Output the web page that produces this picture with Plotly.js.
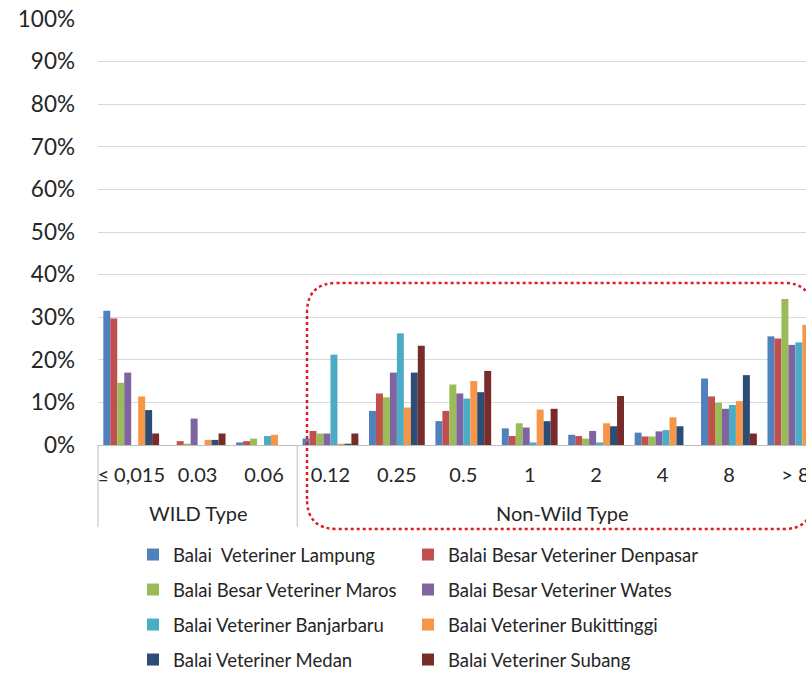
<!DOCTYPE html>
<html>
<head>
<meta charset="utf-8">
<script src="https://cdn.plot.ly/plotly-3.0.1.min.js"></script>
<style>
html,body{margin:0;padding:0;overflow:hidden;background:#fff;}
#chart{width:806px;height:674px;}
</style>
</head>
<body>
<div id="chart"></div>
<script>
// ---- data ----
var categories = ['≤ 0,015','0.03','0.06','0.12','0.25','0.5','1','2','4','8','> 8'];
var groupNames = ['WILD Type','Non-Wild Type'];
var groupFirst = ['≤ 0,015','0.12'];   // first category of each group
var groupLast  = ['0.06','> 8'];       // last category of each group
var seriesNames = ['Balai\u00a0 Veteriner Lampung','Balai Besar Veteriner Denpasar','Balai Besar Veteriner Maros','Balai Besar Veteriner Wates','Balai Veteriner Banjarbaru','Balai Veteriner Bukittinggi','Balai Veteriner Medan','Balai Veteriner Subang'];
var lampung     = [31.5, 0.0, 0.6, 1.5,  8.0,  5.6, 3.9, 2.4, 2.9, 15.6, 25.5];
var denpasar    = [29.7, 0.9, 0.9, 3.3, 12.1,  8.0, 2.1, 2.1, 2.0, 11.4, 25.0];
var maros       = [14.6, 0.3, 1.5, 2.7, 11.2, 14.2, 5.1, 1.5, 2.0,  9.9, 34.3];
var wates       = [17.0, 6.2, 0.0, 2.7, 17.0, 12.1, 4.1, 3.3, 3.2,  8.5, 23.5];
var banjarbaru  = [ 0.0, 0.0, 2.1,21.2, 26.2, 10.9, 0.6, 0.6, 3.5,  9.4, 24.1];
var bukittinggi = [11.4, 1.2, 2.4, 0.3,  8.8, 15.0, 8.3, 5.1, 6.5, 10.3, 28.2];
var medan       = [ 8.2, 1.2, 0.0, 0.3, 17.0, 12.4, 5.6, 4.4, 4.4, 16.4, 28.0];
var subang      = [ 2.7, 2.7, 0.0, 2.7, 23.3, 17.4, 8.5,11.5, 0.0,  2.7, 26.0];
var yTickVals = [0,10,20,30,40,50,60,70,80,90,100];

// ---- styling ----
var seriesValues = [lampung, denpasar, maros, wates, banjarbaru, bukittinggi, medan, subang];
var colors = ['#4F81BD','#C0504D','#9BBB59','#8064A2','#4BACC6','#F79646','#2C4D75','#772C2A'];
var FONT = 'Lato, "Open Sans", sans-serif';
var TXT = '#262626';
var W = 806, H = 674, ML = 98, MT = 19, MB = 229;
var plotW = W - ML, plotH = H - MT - MB;
var xRange = [-0.5, 10.16];
function px2paperY(py){ return (H - MB - py) / plotH; }
function px2paperX(px){ return (px - ML) / plotW; }
function cat2paperX(c){ return (c - xRange[0]) / (xRange[1] - xRange[0]); }

var legendRowsY = [555, 590, 625, 660];
var legendColsX = [173, 448];

var traces = seriesValues.map(function(v, i){
  return {
    type: 'bar',
    name: seriesNames[i],
    x: categories,
    y: v,
    marker: {color: colors[i], line: {width: 0}},
    legend: i === 0 ? 'legend' : 'legend' + (i + 1),
    hoverinfo: 'skip'
  };
});

var layout = {
  width: W, height: H,
  margin: {l: ML, r: 0, t: MT, b: MB, autoexpand: false},
  paper_bgcolor: '#ffffff', plot_bgcolor: '#ffffff',
  font: {family: FONT, color: TXT},
  barmode: 'group', bargap: 0.16, bargroupgap: 0,
  showlegend: true,
  xaxis: {
    type: 'category',
    range: xRange,
    showgrid: false,
    showline: true, linecolor: '#BFBFBF', linewidth: 1,
    ticks: '', tickangle: 0,
    ticklabelstandoff: 12,
    tickfont: {family: FONT, size: 20, color: TXT},
    zeroline: false
  },
  yaxis: {
    range: [0, 100],
    tickvals: yTickVals,
    ticktext: yTickVals.map(function(v){return v + '%';}),
    showgrid: true, gridcolor: '#D9D9D9', gridwidth: 1,
    zeroline: false, showline: false, ticks: '',
    ticklabelstandoff: 22,
    tickfont: {family: FONT, size: 22.5, color: TXT}
  },
  annotations: [],
  shapes: []
};

// legends: 4 rows x 2 columns
seriesNames.forEach(function(n, i){
  var key = i === 0 ? 'legend' : 'legend' + (i + 1);
  var row = Math.floor(i / 2), col = i % 2;
  layout[key] = {
    orientation: 'v',
    x: px2paperX(legendColsX[col] - 40), xanchor: 'left',
    y: px2paperY(legendRowsY[row]), yanchor: 'middle',
    font: {family: FONT, size: 18.5, color: TXT},
    bgcolor: 'rgba(0,0,0,0)', borderwidth: 0, itemwidth: 30
  };
});

// group labels and dividers
var dividerBottom = px2paperY(527);
groupNames.forEach(function(g, i){
  var a = categories.indexOf(groupFirst[i]), b = categories.indexOf(groupLast[i]);
  layout.annotations.push({
    text: g, xref: 'x', yref: 'paper', x: (a + b) / 2, y: px2paperY(513),
    xanchor: 'center', yanchor: 'middle', showarrow: false,
    font: {family: FONT, size: 20, color: TXT}
  });
  var xd = cat2paperX(a - 0.5);
  layout.shapes.push({
    type: 'line', xref: 'paper', yref: 'paper',
    x0: xd, x1: xd, y0: 0, y1: dividerBottom,
    line: {color: '#BFBFBF', width: 1}
  });
});

// dotted rounded highlight around the Non-Wild Type group
(function(){
  var L = 307 - ML, R = 812 - ML, T = H - MB - 283, B = H - MB - 529, r = 30, rr = 28;
  var p = 'M ' + L + ',' + (B + r) + ' L ' + L + ',' + (T - r) +
          ' Q ' + L + ',' + T + ' ' + (L + r) + ',' + T +
          ' L ' + (R - rr) + ',' + T +
          ' Q ' + R + ',' + T + ' ' + R + ',' + (T - rr) +
          ' L ' + R + ',' + (B + rr) +
          ' Q ' + R + ',' + B + ' ' + (R - rr) + ',' + B +
          ' L ' + (L + r) + ',' + B +
          ' Q ' + L + ',' + B + ' ' + L + ',' + (B + r) + ' Z';
  layout.shapes.push({
    type: 'path', xref: 'paper', yref: 'paper',
    xsizemode: 'pixel', ysizemode: 'pixel', xanchor: 0, yanchor: 0,
    path: p,
    line: {color: '#DC1E23', width: 2.5, dash: 'dot'},
    fillcolor: 'rgba(0,0,0,0)', layer: 'above'
  });
})();

Plotly.newPlot('chart', traces, layout, {displayModeBar: false, staticPlot: true});
</script>
</body>
</html>
